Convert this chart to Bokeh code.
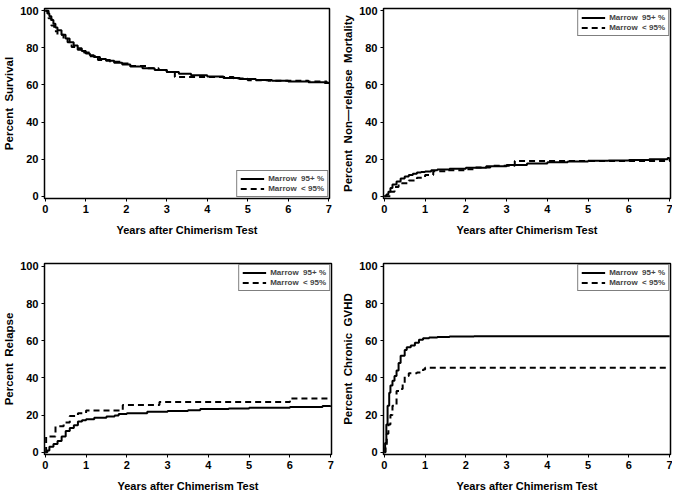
from bokeh.plotting import figure
from bokeh.layouts import gridplot
from bokeh.models import Range1d, Legend, LegendItem, FixedTicker
from bokeh.embed import file_html
from bokeh.resources import INLINE

# ---- data (step curves, x in years, y in percent) ----
surv_hi_x = [0, 0.05, 0.1, 0.15, 0.2, 0.25, 0.3, 0.4, 0.5, 0.6, 0.7, 0.8, 0.9, 1.0, 1.1, 1.2, 1.35, 1.5, 1.7, 1.9, 2.1, 2.4, 2.7, 3.0, 3.3, 3.6, 4.0, 4.4, 4.8, 5.2, 5.6, 6.0, 6.5, 6.9, 7.0]
surv_hi_y = [100, 98.5, 97, 95, 93, 91, 89.5, 87, 85, 83, 81.3, 79.8, 78.3, 77, 76, 75, 74, 73, 72, 71, 70, 69, 68, 67, 66, 65.2, 64.5, 63.8, 63.2, 62.6, 62.2, 61.8, 61.4, 61, 60.5]
surv_lo_x = [0, 0.08, 0.15, 0.22, 0.3, 0.45, 0.55, 0.65, 0.8, 0.95, 1.1, 1.3, 1.6, 1.9, 2.1, 2.5, 2.8, 3.0, 3.2, 4.65, 5.0, 5.5, 6.5, 6.95, 7.0]
surv_lo_y = [100, 96, 92, 89, 87, 85, 83, 80.5, 79, 77.5, 75.5, 73.5, 72.5, 71.5, 70.2, 69, 68, 67, 64.3, 63.5, 62.5, 62.3, 61.8, 61.2, 60.5]

nrm_hi_x = [0, 0.05, 0.1, 0.15, 0.2, 0.3, 0.4, 0.5, 0.6, 0.7, 0.8, 0.9, 1.0, 1.15, 1.3, 1.6, 2.0, 2.5, 3.0, 3.5, 4.0, 4.5, 5.0, 5.5, 6.0, 6.5, 6.95, 7.0]
nrm_hi_y = [0, 1, 2.5, 4.5, 6.3, 8, 9.6, 10.6, 11.4, 12.1, 12.8, 13.1, 13.4, 14, 14.4, 14.9, 15.4, 16.2, 16.9, 17.6, 18.3, 18.7, 19.1, 19.3, 19.6, 19.9, 20.6, 20.8]
nrm_lo_x = [0, 0.15, 0.25, 0.35, 0.6, 0.8, 1.0, 1.2, 1.5, 2.0, 2.2, 2.6, 3.2, 6.9, 7.0]
nrm_lo_y = [0, 2.5, 5, 7, 8.5, 10, 11.5, 13.5, 14, 14.5, 15.5, 16.5, 19, 19, 20.5]

rel_hi_x = [0, 0.05, 0.1, 0.2, 0.3, 0.4, 0.5, 0.6, 0.7, 0.8, 0.9, 1.0, 1.2, 1.5, 1.7, 1.8, 2.0, 2.5, 3.0, 3.5, 3.8, 4.5, 5.0, 6.0, 6.8, 7.0]
rel_hi_y = [0, 1, 3, 4.5, 6, 8.5, 11.5, 13, 14.5, 16.5, 17.3, 17.8, 18.6, 19.3, 19.8, 20.6, 21, 21.8, 22.2, 22.6, 23.3, 23.6, 24, 24.4, 24.9, 25]
rel_lo_x = [0, 0.02, 0.25, 0.45, 0.6, 0.8, 1.0, 1.9, 2.8, 6.0, 7.0]
rel_lo_y = [0, 8.5, 14, 16, 19.5, 21, 22.5, 25.5, 27, 29, 29]

gvhd_hi_x = [0, 0.02, 0.05, 0.08, 0.12, 0.15, 0.2, 0.25, 0.3, 0.35, 0.4, 0.5, 0.55, 0.65, 0.75, 0.85, 0.95, 1.1, 1.3, 1.6, 2.2, 7.0]
gvhd_hi_y = [0, 5, 15, 25, 32, 36, 38.5, 41, 44, 48, 52, 55, 56.5, 57.5, 59, 60.5, 61.4, 61.8, 62, 62.3, 62.5, 62.5]
gvhd_lo_x = [0, 0.03, 0.06, 0.1, 0.15, 0.2, 0.3, 0.4, 0.45, 0.5, 0.6, 0.8, 0.95, 1.0, 7.0]
gvhd_lo_y = [0, 4, 10, 15, 20, 25, 33, 34, 37, 41, 42.5, 43, 44.5, 45.5, 45.5]

x_ticks = [0, 1, 2, 3, 4, 5, 6, 7]
y_ticks = [0, 20, 40, 60, 80, 100]
x_label = "Years after Chimerism Test"
y_labels = ["Percent\u00a0\u00a0Survival",
            "Percent\u00a0\u00a0Non\u2014relapse\u00a0\u00a0Mortality",
            "Percent\u00a0\u00a0Relapse",
            "Percent\u00a0\u00a0Chronic\u00a0\u00a0GVHD"]
legend_labels = ["Marrow\u00a0\u00a095+ %", "Marrow\u00a0\u00a0< 95%"]

FONT = "Liberation Sans"


def make_panel(ylabel, hx, hy, lx, ly, legend_loc, br, bt, bb, fw, fh, yr):
    p = figure(frame_width=fw, frame_height=fh, output_backend="svg",
               toolbar_location=None, x_range=Range1d(-0.02, 7.02),
               y_range=Range1d(*yr),
               min_border_left=10, min_border_right=br,
               min_border_top=bt, min_border_bottom=bb)
    p.grid.visible = False
    p.outline_line_color = "black"
    p.outline_line_width = 1.5
    p.outline_line_alpha = 1
    for ax in (p.xaxis[0], p.yaxis[0]):
        ax.axis_line_color = None
        ax.major_tick_out = 3
        ax.major_tick_in = 0
        ax.minor_tick_line_color = None
        ax.major_label_text_font = FONT
        ax.major_label_text_font_style = "bold"
        ax.major_label_text_font_size = "11px"
        ax.major_label_text_color = "black"
        ax.axis_label_text_font = FONT
        ax.axis_label_text_font_style = "bold"
        ax.axis_label_text_font_size = "11px"
        ax.axis_label_text_color = "black"
        ax.major_label_standoff = 3
    p.yaxis[0].axis_label_text_font_size = "11.5px"
    p.xaxis[0].ticker = FixedTicker(ticks=x_ticks)
    p.yaxis[0].ticker = FixedTicker(ticks=y_ticks)
    p.xaxis[0].axis_label = x_label
    p.yaxis[0].axis_label = ylabel
    p.xaxis[0].axis_label_standoff = 8
    p.yaxis[0].axis_label_standoff = 2

    r1 = p.step(hx, hy, mode="after", line_color="black", line_width=2)
    r2 = p.step(lx, ly, mode="after", line_color="black", line_width=2,
                line_dash="6 4")
    leg = Legend(items=[LegendItem(label=legend_labels[0], renderers=[r1]),
                        LegendItem(label=legend_labels[1], renderers=[r2])],
                 location=legend_loc)
    leg.label_text_font = FONT
    leg.label_text_font_style = "bold"
    leg.label_text_font_size = "8px"
    leg.label_height = 9
    leg.glyph_height = 9
    leg.glyph_width = 24
    leg.label_standoff = 4
    leg.spacing = 1
    leg.padding = 3
    leg.margin = 1
    leg.border_line_color = "black"
    leg.border_line_width = 1
    leg.background_fill_alpha = 1
    p.add_layout(leg, "center")
    return p


yr_top = (-1.2, 101.2)
yr_bot = (-1.2, 101.6)
p1 = make_panel(y_labels[0], surv_hi_x, surv_hi_y, surv_lo_x, surv_lo_y,
                "bottom_right", 8, 8, 42, 285, 190, yr_top)
p2 = make_panel(y_labels[1], nrm_hi_x, nrm_hi_y, nrm_lo_x, nrm_lo_y,
                "top_right", 2, 8, 42, 287, 190, yr_top)
p3 = make_panel(y_labels[2], rel_hi_x, rel_hi_y, rel_lo_x, rel_lo_y,
                "top_right", 8, 23, 30, 287, 191, yr_bot)
p4 = make_panel(y_labels[3], gvhd_hi_x, gvhd_hi_y, gvhd_lo_x, gvhd_lo_y,
                "top_right", 2, 23, 30, 287, 191, yr_bot)

grid = gridplot([[p1, p2], [p3, p4]], toolbar_location=None)

open("out.html", "w").write(file_html(grid, INLINE))
